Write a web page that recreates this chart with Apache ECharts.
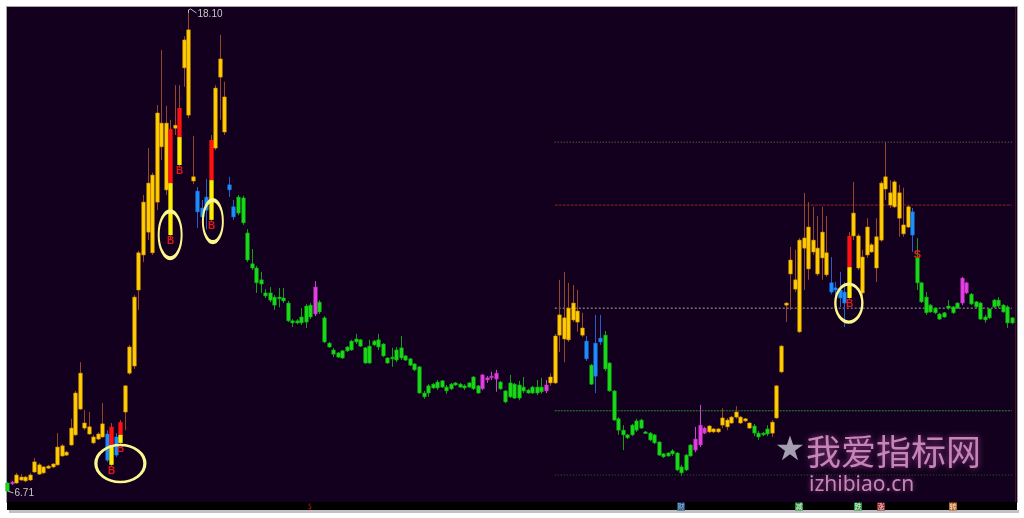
<!DOCTYPE html>
<html><head><meta charset="utf-8">
<script src="https://cdn.jsdelivr.net/npm/echarts/dist/echarts.min.js"></script>
<style>html,body{margin:0;padding:0;background:#fff;}#c{width:1024px;height:518px;}</style>
</head><body><div id="c"></div>
<script>
// [open, close, low, high] per trading day
const ohlc = [
[6.90,6.71,6.71,6.92],[6.88,6.92,6.85,6.95],[6.90,7.09,6.88,7.14],[6.97,7.04,6.95,7.11],[6.95,7.04,6.92,7.07],
[6.97,7.09,6.95,7.14],[7.16,7.40,7.14,7.49],[7.11,7.33,7.09,7.37],[7.14,7.28,7.11,7.30],[7.25,7.30,7.23,7.33],
[7.28,7.35,7.25,7.37],[7.33,7.75,7.30,8.08],[7.54,7.78,7.52,7.82],[7.56,7.63,7.54,7.66],[7.80,8.20,7.78,8.42],
[8.04,9.03,8.01,9.08],[8.65,9.50,8.63,9.76],[8.20,8.32,8.15,8.63],[8.06,8.23,8.04,8.58],[7.85,7.99,7.82,8.04],
[7.94,8.06,7.92,8.10],[7.99,8.30,7.97,8.79],[8.06,7.44,7.40,8.15],[7.33,8.23,7.30,8.32],[7.99,7.56,7.52,8.08],
[7.85,8.34,7.82,8.39],[8.58,9.20,8.15,9.22],[9.50,10.12,9.46,10.17],[9.67,11.30,9.60,11.35],[11.47,12.35,11.00,12.40],
[12.30,13.55,12.13,13.72],[12.84,14.00,12.65,14.83],[12.35,14.19,12.30,14.25],[13.55,15.66,13.36,15.85],[14.86,15.42,14.55,17.15],
[13.84,15.42,13.72,15.83],[12.77,15.28,12.65,15.50],[15.30,15.37,15.14,16.32],[14.43,15.78,14.36,16.32],[16.73,17.39,16.28,17.48],
[15.61,17.63,15.54,18.10],[14.05,14.15,13.98,15.12],[13.81,13.32,12.94,13.91],[13.41,13.20,13.01,13.60],[13.67,13.36,12.90,14.10],
[13.13,15.02,13.08,15.14],[14.83,16.25,14.78,16.32],[16.51,16.94,15.50,17.51],[15.21,16.04,15.14,16.40],[13.96,13.84,13.67,14.15],
[13.44,13.20,13.13,13.60],[13.67,13.29,13.24,13.72],[13.65,13.06,13.01,13.70],[12.82,12.18,12.13,12.91],[12.09,11.99,11.94,12.44],
[11.99,11.64,11.40,12.04],[11.71,11.61,11.40,11.90],[11.40,11.33,11.28,11.49],[11.40,11.23,11.18,11.54],[11.30,11.11,11.00,11.35],
[11.30,11.26,11.06,11.52],[11.28,11.21,11.16,11.52],[11.16,10.74,10.71,11.21],[10.74,10.69,10.59,10.78],[10.74,10.69,10.66,10.78],
[10.83,10.69,10.64,11.04],[11.09,10.71,10.57,11.14],[11.11,10.83,10.78,11.16],[10.90,11.54,10.85,11.68],[11.18,10.95,10.90,11.23],
[10.81,10.24,10.21,10.85],[10.21,10.12,10.10,10.24],[10.05,9.95,9.88,10.10],[9.98,9.88,9.86,10.00],[10.03,9.86,9.84,10.05],
[10.12,10.03,10.00,10.14],[10.26,10.05,10.03,10.29],[10.31,10.24,10.19,10.43],[10.29,10.14,10.12,10.31],[10.10,9.74,9.72,10.12],
[10.14,9.74,9.72,10.29],[10.26,10.17,10.14,10.29],[10.29,10.12,10.05,10.43],[10.19,9.91,9.88,10.21],[9.86,9.74,9.72,9.88],
[9.88,9.84,9.65,10.10],[10.05,9.81,9.76,10.12],[10.10,9.86,9.81,10.38],[9.91,9.81,9.79,9.93],[9.84,9.69,9.67,9.86],
[9.72,9.58,9.55,9.74],[9.65,9.03,9.01,9.67],[9.03,8.94,8.89,9.08],[9.20,9.03,8.94,9.24],[9.24,9.15,9.13,9.27],
[9.29,9.15,9.10,9.34],[9.32,9.17,9.15,9.34],[9.17,9.08,9.01,9.22],[9.24,9.13,9.10,9.27],[9.27,9.22,9.20,9.29],
[9.24,9.17,9.15,9.27],[9.20,9.15,9.10,9.24],[9.27,9.17,9.15,9.29],[9.41,9.13,9.10,9.43],[9.20,9.03,9.01,9.22],
[9.13,9.46,9.10,9.48],[9.34,9.39,9.27,9.43],[9.41,9.43,9.34,9.53],[9.36,9.50,9.06,9.58],[9.29,9.13,9.10,9.32],
[9.08,8.82,8.79,9.10],[9.27,8.94,8.91,9.46],[9.24,8.91,8.89,9.27],[9.22,8.91,8.86,9.32],[9.17,9.08,9.03,9.41],
[9.10,9.03,9.01,9.13],[9.17,9.03,9.01,9.20],[9.17,9.03,8.98,9.34],[9.17,9.06,9.01,9.39],[9.08,9.22,9.03,9.34],
[9.27,9.41,9.20,9.50],[9.27,10.38,9.24,10.43],[10.40,10.88,10.00,11.71],[10.31,10.81,9.76,11.90],[10.29,11.04,10.24,11.64],
[10.76,11.16,10.71,11.59],[10.71,10.97,10.48,11.47],[10.40,10.57,10.36,10.93],[10.26,9.84,9.79,10.38],[9.69,9.24,9.22,9.72],
[10.21,9.43,9.03,10.88],[10.33,10.24,10.17,10.88],[10.40,9.60,9.55,10.50],[9.74,9.08,9.06,9.76],[9.08,8.39,8.37,9.10],
[8.42,8.15,8.04,8.46],[8.15,8.04,7.68,8.27],[8.04,7.97,7.94,8.06],[8.27,8.04,8.01,8.30],[8.37,8.15,8.11,8.42],
[8.39,8.20,8.18,8.42],[8.11,8.08,8.06,8.13],[8.08,7.92,7.89,8.11],[8.04,7.85,7.82,8.06],[7.87,7.56,7.54,7.89],
[7.59,7.52,7.49,7.61],[7.61,7.54,7.52,7.63],[7.66,7.59,7.54,7.70],[7.61,7.21,7.18,7.63],[7.28,7.14,7.07,7.33],
[7.56,7.21,7.18,7.59],[7.80,7.54,7.52,7.82],[7.68,7.94,7.63,8.23],[7.80,8.27,7.75,8.75],[8.08,8.20,8.06,8.23],
[8.11,8.25,8.08,8.27],[8.11,8.18,8.08,8.20],[8.11,8.18,8.08,8.20],[8.27,8.44,8.20,8.67],[8.23,8.39,8.15,8.44],
[8.32,8.46,8.30,8.49],[8.46,8.58,8.42,8.72],[8.32,8.46,8.30,8.49],[8.37,8.42,8.34,8.44],[8.20,8.32,8.18,8.34],
[8.25,8.08,8.01,8.30],[8.08,7.99,7.92,8.13],[8.08,8.04,8.01,8.11],[8.18,8.06,8.01,8.27],[8.08,8.34,7.99,8.39],
[8.44,9.20,8.42,9.22],[9.53,10.14,9.50,10.17],[11.11,11.16,10.71,11.18],[11.85,12.18,11.00,12.49],[11.49,11.71,11.42,12.42],
[10.48,12.65,10.45,12.70],[12.46,12.70,11.47,13.77],[11.97,12.96,11.71,13.55],[12.37,12.65,12.30,13.44],[11.85,12.46,11.80,13.22],
[12.23,12.84,11.71,13.44],[11.83,12.35,11.78,13.22],[11.64,11.42,11.37,12.25],[11.52,11.47,11.33,11.66],[11.47,11.28,11.06,11.90],
[11.42,11.16,10.59,11.66],[11.28,12.75,11.23,12.84],[12.75,13.29,12.65,14.03],[11.99,12.75,11.94,12.80],[11.40,12.25,11.23,12.42],
[12.30,12.96,12.23,13.17],[12.37,12.54,12.35,12.58],[11.99,12.73,11.66,13.17],[12.65,14.00,12.61,14.05],[13.86,14.15,13.60,14.97],
[13.48,13.77,13.41,14.07],[13.44,14.03,13.41,14.07],[13.17,13.77,12.73,13.96],[12.80,13.01,12.73,13.89],[12.96,13.44,12.94,13.48],
[13.32,12.77,12.37,13.41],[12.23,11.64,11.47,12.70],[11.64,11.19,11.16,11.66],[11.30,10.93,10.88,11.42],[11.11,10.95,10.93,11.14],
[11.04,10.93,10.90,11.06],[10.90,10.78,10.76,10.93],[10.93,10.83,10.81,10.95],[11.09,11.04,11.00,11.23],[11.07,10.93,10.90,11.09],
[11.16,11.04,11.02,11.18],[11.16,11.75,11.11,11.78],[11.40,11.64,11.37,11.66],[11.37,11.14,11.11,11.40],[11.19,11.07,11.04,11.21],
[11.16,10.78,10.76,11.19],[10.83,10.76,10.69,10.88],[11.02,10.81,10.78,11.04],[11.23,11.07,11.04,11.26],[11.23,11.09,11.04,11.30],
[11.11,10.95,10.93,11.14],[11.07,10.69,10.57,11.11],[10.81,10.69,10.66,10.83]
];
// trend-state colour code per day: Y gold, G green, B blue, M magenta, R red/yellow buy bar
const colorCodes = [
 "GM","YYYYYYYYYY","YYYYYYYYYY","BRBR","YYYYYYYYYY","RYR","YYY","BBB","R","YYY","BB",
 "GGGGGGGGGG","GGGGGGG","M","GGGGGGGGGG","GGGGGGGGGG","GGGGGGGGGG","GGGGGG","MMMM","GGGGGGGGGG","M",
 "YYYYYYYY","B","G","BB","GGGGGGGGGG","GGGGGGGGGG","MMM","YYYYYYYYYY","GGGG","YYYYYYYYYY","YYY",
 "BBBB","R","YYYYYYYYYY","YYY","B","GGGGGGGGGG","MM","GGGGGGGGGG"
].join("");
const twoToneSplit = {23:7.80, 25:8.04, 36:14.00, 38:15.09, 45:14.07, 186:12.01};
const buySignals = [23, 25, 36, 38, 45, 186];
const sellSignals = [201];
const circledPoints = [[25, 7.36], [36, 12.78], [45, 13.10], [186, 11.16]];
const levelLines = [14.97, 13.48, 11.04, 8.61, 7.09];
const levelStart = 121, levelEnd = 222;
const eventTags = [[67, '$'], [149, '财'], [175, '减'], [188, '跌'], [193, '涨'], [209, '转']];
const yRange = [6.45, 18.17];
const categories = ohlc.map(function(_, i){ return String(i); });

// ---------- styles ----------
const STYLE = {
  Y: {body:'#ffcf00', edge:'#d99500', wick:'#93482a'},
  G: {body:'#19dc19', edge:'#10a810', wick:'#169c16'},
  B: {body:'#1e90ff', edge:'#1872d6', wick:'#2a5fc2'},
  M: {body:'#e53fe5', edge:'#b52fb5', wick:'#c548c5'},
  R: {body:'#ff1111', low:'#ffee00', wick:'#93482a'}
};
const CIRCLE_SIZES = [[49, 37], [23, 47], [20, 42], [27, 38]];
const CIRCLE_OFFSETS = [[0,0],[0,0],[2,0],[0,0]];
const LEVEL_STYLES = [
  {color:'#8a7058', dash:[1,2]},
  {color:'#8e2626', dash:[3,1]},
  {color:'#a8a8a8', dash:[2,2]},
  {color:'#2f8a2f', dash:[2,1]},
  {color:'#2a6a2a', dash:[1,2]}
];
const TAG_STYLE = {
  '$': {bg:null, fg:'#e01414'},
  '财': {bg:'#1d4a78', fg:'#a9c9ea'},
  '减': {bg:'#2c8a3a', fg:'#e6ffe6'},
  '跌': {bg:'#2c8a3a', fg:'#e6ffe6'},
  '涨': {bg:'#8a2626', fg:'#ffd8d8'},
  '转': {bg:'#b4662a', fg:'#ffe6c8'}
};

let maxIdx = 0, minIdx = 0;
ohlc.forEach(function(d, i){
  if (d[3] > ohlc[maxIdx][3]) maxIdx = i;
  if (d[2] < ohlc[minIdx][2]) minIdx = i;
});

function renderCandle(params, api) {
  const i = api.value(0);
  const o = api.value(1), c = api.value(2), lo = api.value(3), hi = api.value(4);
  const code = colorCodes[i];
  const s = STYLE[code] || STYLE.Y;
  const band = api.size([1, 0])[0];
  const x = Math.round(api.coord([i, hi])[0]) + 0.5;
  const yH = api.coord([i, hi])[1], yL = api.coord([i, lo])[1];
  const yT = api.coord([i, Math.max(o, c)])[1], yB = api.coord([i, Math.min(o, c)])[1];
  const children = [{type:'line', shape:{x1:x, y1:yH, x2:x, y2:yL}, style:{stroke:s.wick, lineWidth:1}}];
  if (code === 'R') {
    const bw = band * 0.95;
    const ys = api.coord([i, twoToneSplit[i]])[1];
    children.push({type:'rect', shape:{x:x-bw/2, y:yT, width:bw, height:ys-yT}, style:{fill:s.body}});
    children.push({type:'rect', shape:{x:x-bw/2, y:ys, width:bw, height:yB-ys}, style:{fill:s.low}});
  } else {
    const bw = band * 0.78;
    const h = Math.max(yB - yT, 1.6);
    children.push({type:'rect', shape:{x:x-bw/2, y:yT, width:bw, height:h}, style:{fill:s.body, stroke:s.edge, lineWidth:0.6}});
  }
  if (buySignals.indexOf(i) >= 0) {
    children.push({type:'text', x:x, y:yB+1, style:{text:'B', align:'center', verticalAlign:'top', fill:'#e01818', font:'bold 10px "Liberation Sans", Arial'}});
  }
  if (sellSignals.indexOf(i) >= 0) {
    children.push({type:'text', x:x, y:yT+3, style:{text:'S', align:'center', verticalAlign:'bottom', fill:'#e02a10', font:'bold 11px "Liberation Sans", Arial'}});
  }
  if (i === maxIdx) {
    children.push({type:'polyline', shape:{points:[[x, yH+3],[x, yH],[x+2, yH-1],[x+8, yH+3]]}, style:{stroke:'#bdbdbd', lineWidth:1, fill:null}});
    children.push({type:'text', x:x+9, y:yH+4, style:{text:hi.toFixed(2), align:'left', verticalAlign:'middle', fill:'#c8c8c8', font:'10px "Liberation Sans", Arial'}});
  }
  if (i === minIdx) {
    children.push({type:'line', shape:{x1:x, y1:yL, x2:x+6, y2:yL+2}, style:{stroke:'#bdbdbd', lineWidth:1}});
    children.push({type:'text', x:x+7, y:yL+2, style:{text:lo.toFixed(2), align:'left', verticalAlign:'middle', fill:'#c8c8c8', font:'10px "Liberation Sans", Arial'}});
  }
  return {type:'group', children:children};
}

function renderTag(params, api) {
  const tag = eventTags[params.dataIndex];
  const st = TAG_STYLE[tag[1]];
  const x = Math.round(api.coord([tag[0], yRange[0]])[0]);
  const y = params.coordSys.y + params.coordSys.height;
  const kids = [];
  if (st.bg) kids.push({type:'rect', shape:{x:x-4, y:y+0.5, width:8, height:8}, style:{fill:st.bg}});
  kids.push({type:'text', x:x, y:y+4.5, style:{text:tag[1], align:'center', verticalAlign:'middle', fill:st.fg, font:'7px "Noto Sans CJK SC", sans-serif'}});
  return {type:'group', children:kids};
}

const chart = echarts.init(document.getElementById('c'), null, {renderer:'canvas'});
const series = [];
levelLines.forEach(function(v, k){
  series.push({type:'line', data:[[levelStart, v], [levelEnd, v]], symbol:'none', silent:true, z:1,
    lineStyle:{color:LEVEL_STYLES[k].color, width:1, type:LEVEL_STYLES[k].dash}});
});
series.push({type:'custom', renderItem:renderCandle, clip:false, z:3,
  encode:{x:0, y:[1,2,3,4]},
  data:ohlc.map(function(d, i){ return [i, d[0], d[1], d[2], d[3]]; })});
series.push({type:'scatter', silent:true, z:5, symbol:'circle',
  itemStyle:{color:'rgba(0,0,0,0)', borderColor:'#fbf68e', borderWidth:2.8, opacity:1},
  data:circledPoints.map(function(p, k){ return {value:p, symbolSize:CIRCLE_SIZES[k], symbolOffset:CIRCLE_OFFSETS[k]}; })});
series.push({type:'custom', renderItem:renderTag, clip:false, z:6,
  data:eventTags.map(function(t){ return [t[0], yRange[0]]; })});

chart.setOption({
  animation:false,
  backgroundColor:'#ffffff',
  grid:{left:5, right:10, top:7, bottom:16},
  xAxis:{type:'category', data:categories, show:false, boundaryGap:true},
  yAxis:{type:'value', min:yRange[0], max:yRange[1], show:false, splitLine:{show:false}},
  graphic:{elements:[
    {type:'rect', z:-10, shape:{x:6.5, y:6.5, width:1011, height:496}, style:{fill:'#12001e', stroke:'#a6a6a6', lineWidth:1}},
    {type:'line', z:-9, shape:{x1:1015.5, y1:7, x2:1015.5, y2:502}, style:{stroke:'#4a1226', lineWidth:1}},
    {type:'rect', z:-9, shape:{x:7, y:502, width:1010, height:8}, style:{fill:'#000000'}},
    {type:'rect', z:-9, shape:{x:9, y:510, width:1010, height:3}, style:{fill:'#c2c2c2'}},
    {type:'text', z:50, x:790, y:451, style:{text:'★', align:'center', verticalAlign:'middle', fill:'#a49eb0', font:'34px "DejaVu Sans"'}},
    {type:'text', z:50, x:806, y:452, style:{text:'我爱指标网', align:'left', verticalAlign:'middle', fill:'#c585b8', font:'35px "Noto Sans CJK SC"', textShadowColor:'rgba(255,110,210,0.55)', textShadowBlur:6}},
    {type:'text', z:50, x:809, y:485, style:{text:'izhibiao.cn', align:'left', verticalAlign:'middle', fill:'#c585b8', font:'21px "Noto Sans"', textShadowColor:'rgba(255,110,210,0.5)', textShadowBlur:5}}
  ]},
  series:series
});
</script>
</body></html>
